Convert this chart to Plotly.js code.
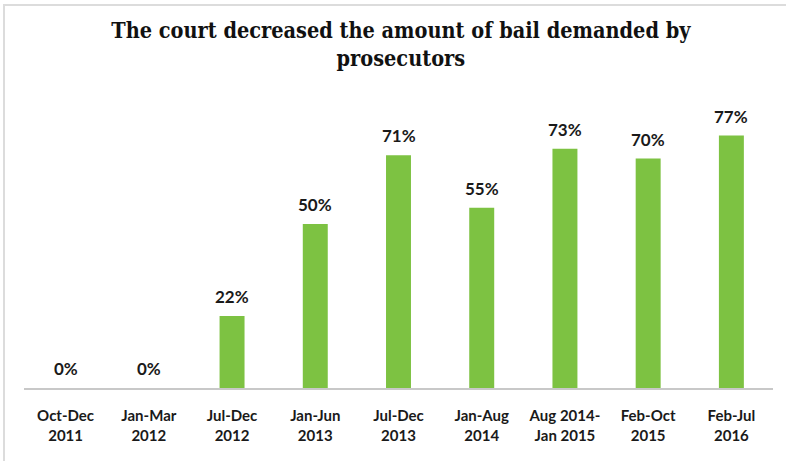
<!DOCTYPE html>
<html>
<head>
<meta charset="utf-8">
<script src="https://cdn.plot.ly/plotly-3.0.1.min.js"></script>
<style>
  body { margin: 0; background: #ffffff; }
  #grafico { width: 786px; height: 461px; }
  #moldura {
    position: absolute; left: 3px; top: 4px; width: 800px; height: 470px;
    border-left: 2px solid #dcdcdc; border-top: 2px solid #dcdcdc;
    pointer-events: none;
  }
</style>
</head>
<body>
<div id="grafico"></div>
<div id="moldura"></div>
<script>
// Períodos e percentagens
const periodos = [
    'Oct-Dec<br>2011', 'Jan-Mar<br>2012', 'Jul-Dec<br>2012', 'Jan-Jun<br>2013',
    'Jul-Dec<br>2013', 'Jan-Aug<br>2014', 'Aug 2014-<br>Jan 2015', 'Feb-Oct<br>2015',
    'Feb-Jul<br>2016'
];
const percentagens = [0, 0, 22, 50, 71, 55, 73, 70, 77];
const rotulos = percentagens.map(v => '<b>' + v + '%</b>');

const data = [
    {
        x: periodos,
        y: percentagens,
        type: 'bar',
        marker: { color: '#7dc242' },
        hoverinfo: 'none'
    }
];

// Rótulos por cima das barras
const anotacoes = periodos.map((p, i) => ({
    x: p,
    y: percentagens[i],
    text: rotulos[i],
    showarrow: false,
    yanchor: 'bottom',
    yshift: 7,
    font: { family: 'Lato', size: 17, color: '#1a1a1a' }
}));

const layout = {
    title: {
        text: '<b>The court decreased the amount of bail demanded by<br>prosecutors</b>',
        font: { family: 'DejaVu Serif Condensed, Liberation Serif, serif', size: 21.5, color: '#111' },
        x: 0.51,
        xanchor: 'center',
        y: 0.918,
        yanchor: 'top'
    },
    margin: { l: 24, r: 13, t: 93, b: 73 },
    bargap: 0.7,
    showlegend: false,
    annotations: anotacoes,
    xaxis: {
        tickfont: { family: 'Lato', size: 15, color: '#1a1a1a', weight: 'bold' },
        showline: true,
        linecolor: '#c8c8c8',
        linewidth: 2,
        ticks: '',
        showgrid: false,
        ticklabelstandoff: 13
    },
    yaxis: {
        range: [0, 90],
        visible: false,
        showgrid: false,
        zeroline: false
    },
    plot_bgcolor: '#ffffff',
    paper_bgcolor: '#ffffff'
};

Plotly.newPlot('grafico', data, layout, { displayModeBar: false });
</script>
</body>
</html>
